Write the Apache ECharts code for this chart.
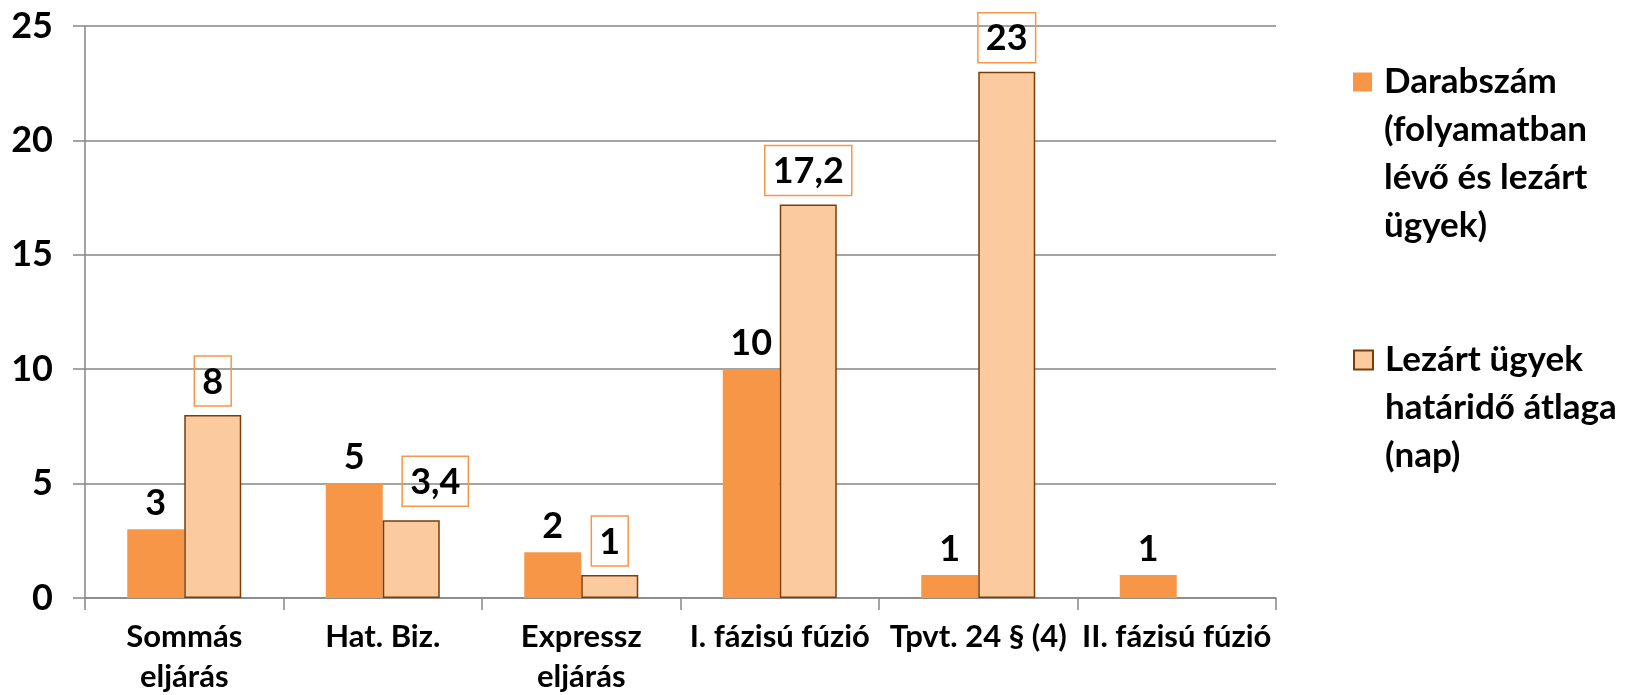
<!DOCTYPE html>
<html>
<head>
<meta charset="utf-8">
<script src="https://cdn.jsdelivr.net/npm/echarts@6/dist/echarts.min.js"></script>
<style>
  html, body { margin: 0; padding: 0; background: #fff; }
  #chart { width: 1632px; height: 695px; }
</style>
</head>
<body>
<div id="chart"></div>
<script>
const categories = ['Sommás\neljárás', 'Hat. Biz.', 'Expressz\neljárás', 'I. fázisú fúzió', 'Tpvt. 24 § (4)', 'II. fázisú fúzió'];
const seriesNames = ['Darabszám (folyamatban lévő és lezárt ügyek)', 'Lezárt ügyek határidő átlaga (nap)'];
const legendLines = [
  ['Darabszám', '(folyamatban', 'lévő és lezárt', 'ügyek)'],
  ['Lezárt ügyek', 'határidő átlaga', '(nap)']
];
const countValues = [3, 5, 2, 10, 1, 1];
const avgDays = [8, 3.4, 1, 17.2, 23, null];
const yTicks = [0, 5, 10, 15, 20, 25];

const FONT = 'Lato';
const LH = 48;
const chart = echarts.init(document.getElementById('chart'), null, { renderer: 'canvas' });

function comma(v) {
  return String(v).replace('.', ',');
}

// legend text is centred on its icon, so empty lines in front push the
// first real line level with the square; {g|} adds the gap after the icon
function legendFor(i, iconCenter) {
  const n = legendLines[i].length;
  const lines = new Array(n - 1).fill('').concat(legendLines[i]);
  return {
    data: [{ name: seriesNames[i], icon: 'rect' }],
    orient: 'vertical',
    left: 1353,
    top: iconCenter - lines.length * LH / 2,
    padding: 0,
    itemWidth: 19,
    itemHeight: 19,
    selectedMode: false,
    formatter: () => lines.map(l => '{g|}{t|' + l + '}').join('\n'),
    textStyle: {
      fontFamily: FONT,
      fontWeight: 'bold',
      fontSize: 35,
      lineHeight: LH,
      color: '#000',
      rich: {
        g: { width: 7, height: LH, lineHeight: LH },
        t: { fontFamily: FONT, fontWeight: 'bold', fontSize: 35, lineHeight: LH, color: '#000' }
      }
    }
  };
}

const option = {
  animation: false,
  backgroundColor: '#fff',
  grid: { left: 85, right: 356, top: 26, bottom: 97, outerBoundsMode: 'none' },
  legend: [legendFor(0, 82), legendFor(1, 360)],
  xAxis: {
    type: 'category',
    data: categories,
    axisLine: { lineStyle: { color: '#868686', width: 1.5 } },
    axisTick: { show: true, length: 12, lineStyle: { color: '#868686', width: 1.5 } },
    axisLabel: {
      margin: 19,
      fontFamily: FONT,
      fontWeight: 'bold',
      fontSize: 31,
      lineHeight: 40,
      color: '#000',
      interval: 0
    }
  },
  yAxis: {
    type: 'value',
    min: yTicks[0],
    max: yTicks[yTicks.length - 1],
    interval: 5,
    axisLine: { show: true, lineStyle: { color: '#868686', width: 1.5 } },
    axisTick: { show: true, length: 12, lineStyle: { color: '#868686', width: 1.5 } },
    splitLine: { lineStyle: { color: '#868686', width: 1.5 } },
    axisLabel: {
      margin: 32,
      fontFamily: FONT,
      fontWeight: 'bold',
      fontSize: 36,
      color: '#000'
    }
  },
  series: [
    {
      name: seriesNames[0],
      type: 'bar',
      data: countValues,
      barWidth: 57,
      barGap: '0%',
      itemStyle: { color: '#F79646' },
      label: {
        show: true,
        position: 'top',
        distance: 8,
        fontFamily: FONT,
        fontWeight: 'bold',
        fontSize: 36,
        color: '#000',
        formatter: p => comma(p.value)
      }
    },
    {
      name: seriesNames[1],
      type: 'bar',
      data: avgDays.map((v, i) => i === 1
        ? { value: v, label: { offset: [24, -5] } }
        : v),
      barWidth: 57,
      itemStyle: { color: '#FBCB9F', borderColor: '#7A3E0A', borderWidth: 1.5 },
      label: {
        show: true,
        position: 'top',
        distance: 9,
        fontFamily: FONT,
        fontWeight: 'bold',
        fontSize: 36,
        color: '#000',
        borderColor: '#F79646',
        borderWidth: 1.5,
        padding: [8, 8, 6, 8],
        formatter: p => comma(p.value)
      }
    }
  ]
};

chart.setOption(option);
</script>
</body>
</html>
